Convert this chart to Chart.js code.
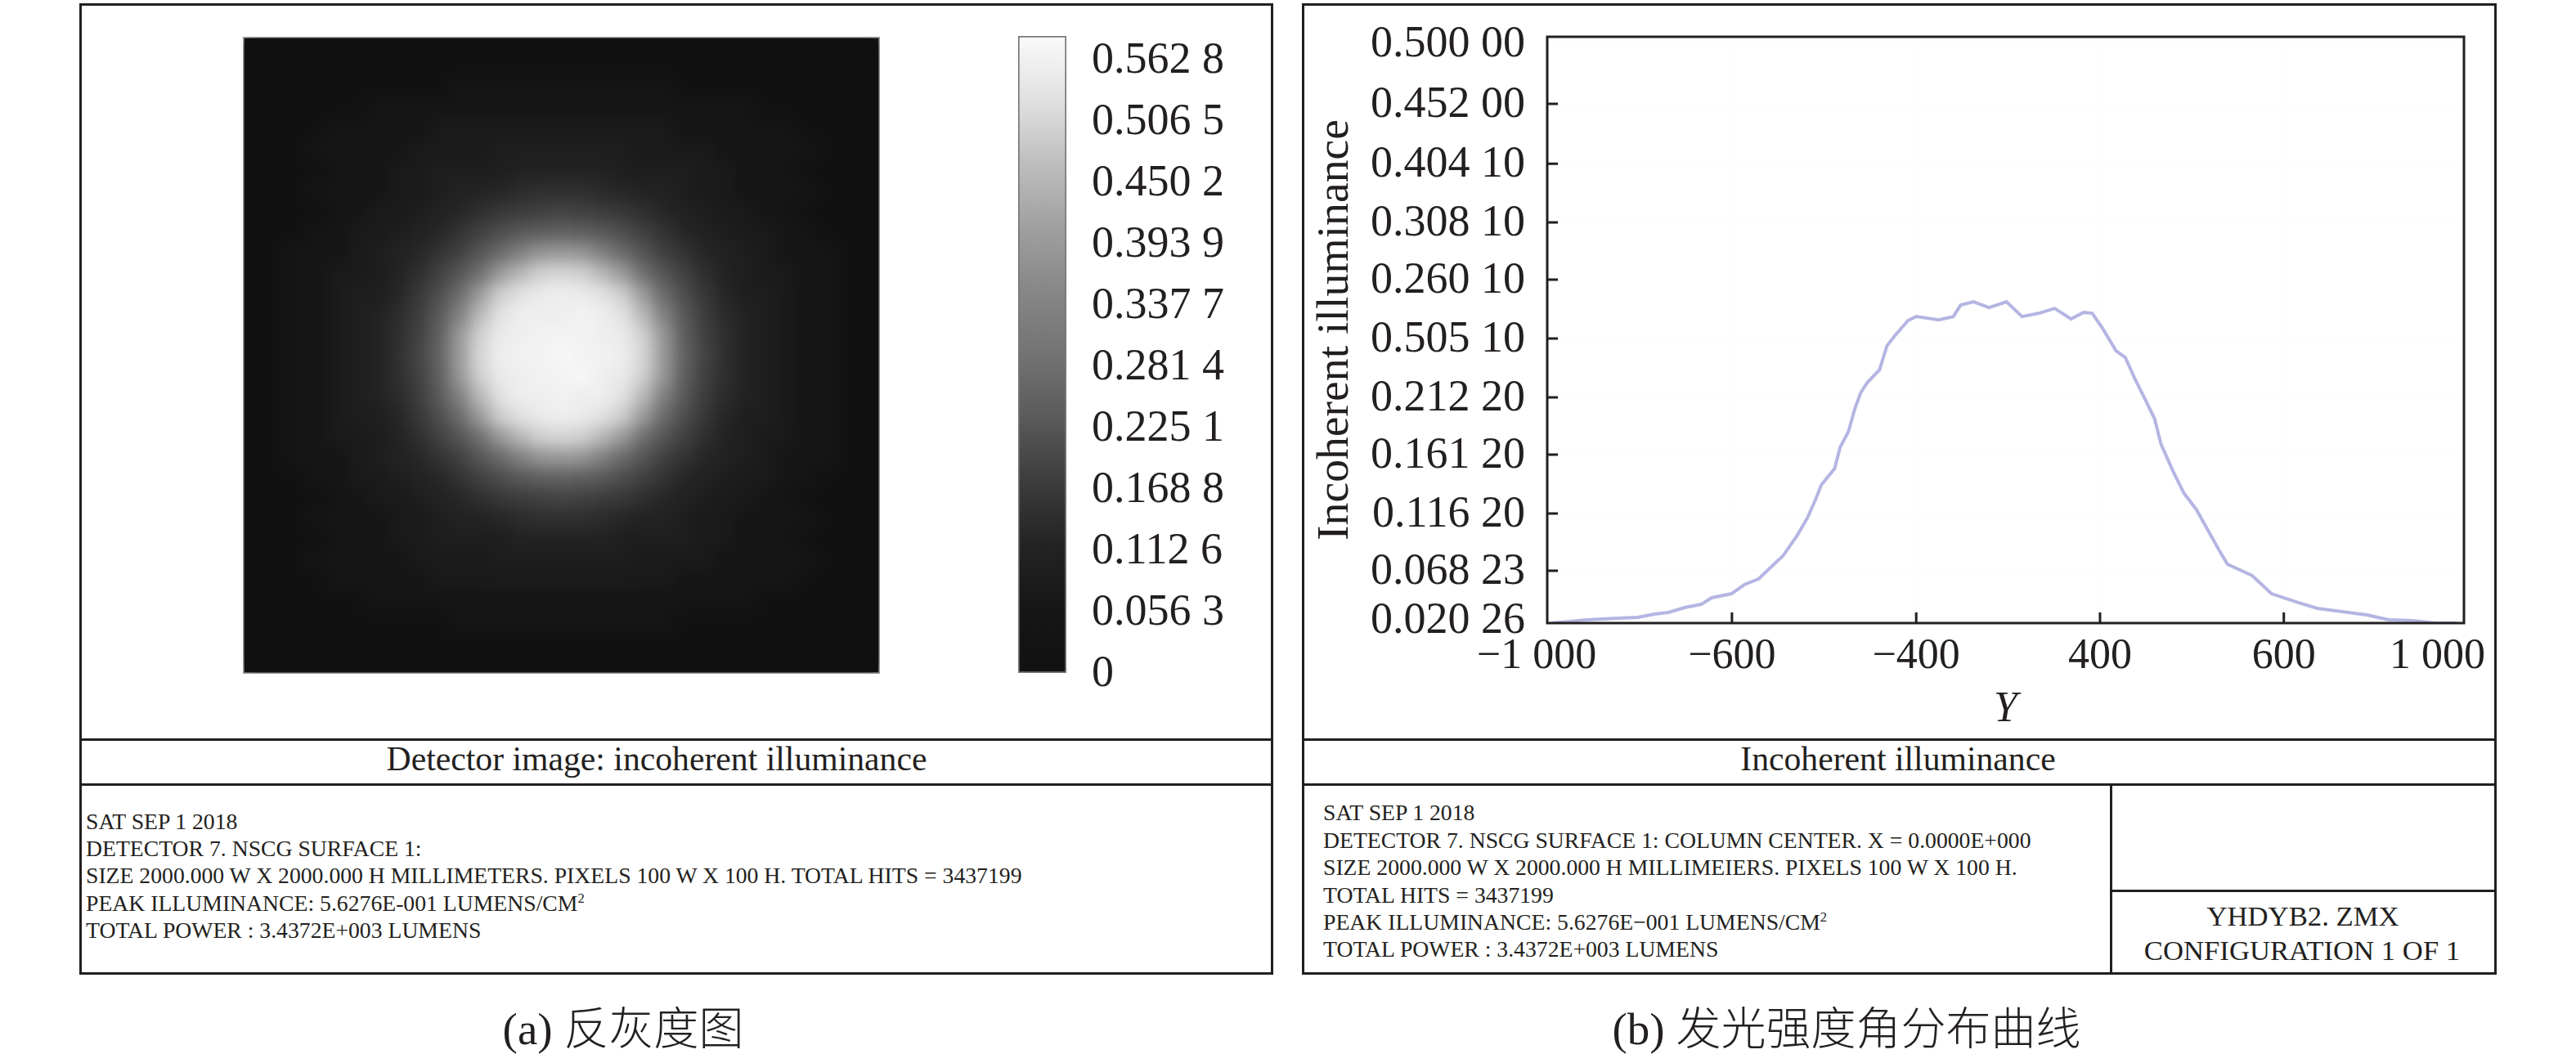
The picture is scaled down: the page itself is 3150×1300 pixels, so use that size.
<html lang="en">
  <head>
    <title>Detector image and incoherent illuminance</title>
    <meta charset="utf-8">
    <script src="https://cdn.jsdelivr.net/npm/chart.js@4/dist/chart.umd.min.js"></script>
    <style>
      html, body { margin: 0; padding: 0; background: #fff; }
      body { width: 3150px; height: 1300px; position: relative; overflow: hidden; color: #231f20; font-family: "Liberation Serif", serif; }
      .line { position: absolute; background: #231f20; }
      .txt { position: absolute; white-space: pre; line-height: 1; transform: translateY(-50%); }
      .mid { transform: translate(-50%, -50%); }
      .title { font-size: 41.7px; }
      .info { font-size: 27.7px; }
      .box { font-size: 34.7px; }
      .cap { font-size: 55px; font-family: "Liberation Serif", "Noto Sans CJK SC", serif; font-weight: 300; }
      sup { font-size: 60%; line-height: 0; }
      canvas { position: absolute; }
      #heatWrap { position: absolute; left: 298px; top: 46px; width: 777px; height: 777px; overflow: hidden; background: #111; outline: 2px solid #9a9a9a; outline-offset: -1px; }
      #heatChart { left: 0; top: 0; filter: blur(9px); }
    </style>
  </head>
  <body>
  <!-- left panel -->
  <div class="line" style="left:97px;top:4px;width:1460px;height:3px"></div>
  <div class="line" style="left:97px;top:4px;width:3px;height:1188px"></div>
  <div class="line" style="left:1554px;top:4px;width:3px;height:1188px"></div>
  <div class="line" style="left:97px;top:903px;width:1460px;height:3px"></div>
  <div class="line" style="left:97px;top:958px;width:1460px;height:3px"></div>
  <div class="line" style="left:97px;top:1189px;width:1460px;height:3px"></div>
  <!-- right panel -->
  <div class="line" style="left:1592px;top:4px;width:1461px;height:3px"></div>
  <div class="line" style="left:1592px;top:4px;width:3px;height:1188px"></div>
  <div class="line" style="left:3050px;top:4px;width:3px;height:1188px"></div>
  <div class="line" style="left:1592px;top:903px;width:1461px;height:3px"></div>
  <div class="line" style="left:1592px;top:958px;width:1461px;height:3px"></div>
  <div class="line" style="left:1592px;top:1189px;width:1461px;height:3px"></div>
  <div class="line" style="left:2580px;top:958px;width:3px;height:232px"></div>
  <div class="line" style="left:2580px;top:1088px;width:472px;height:3px"></div>

  <div id="heatWrap"><canvas id="heatChart" width="777" height="777"></canvas></div>
  <canvas id="barChart" width="310" height="860" style="left:1240px;top:10px"></canvas>
  <canvas id="curveChart" width="1450" height="890" style="left:1600px;top:10px"></canvas>

  <div class="txt title mid" style="left:803px;top:929px">Detector image: incoherent illuminance</div>
  <div class="txt title mid" style="left:2321px;top:929px">Incoherent illuminance</div>

  <div class="txt info" style="left:105px;top:1005px">SAT SEP 1 2018</div>
  <div class="txt info" style="left:105px;top:1038px">DETECTOR 7. NSCG SURFACE 1:</div>
  <div class="txt info" style="left:105px;top:1071px">SIZE 2000.000 W X 2000.000 H MILLIMETERS. PIXELS 100 W X 100 H. TOTAL HITS = 3437199</div>
  <div class="txt info" style="left:105px;top:1105px">PEAK ILLUMINANCE: 5.6276E-001 LUMENS/CM<sup>2</sup></div>
  <div class="txt info" style="left:105px;top:1138px">TOTAL POWER : 3.4372E+003 LUMENS</div>

  <div class="txt info" style="left:1618px;top:994px">SAT SEP 1 2018</div>
  <div class="txt info" style="left:1618px;top:1028px">DETECTOR 7. NSCG SURFACE 1: COLUMN CENTER. X = 0.0000E+000</div>
  <div class="txt info" style="left:1618px;top:1061px">SIZE 2000.000 W X 2000.000 H MILLIMEIERS. PIXELS 100 W X 100 H.</div>
  <div class="txt info" style="left:1618px;top:1095px">TOTAL HITS = 3437199</div>
  <div class="txt info" style="left:1618px;top:1128px">PEAK ILLUMINANCE: 5.6276E−001 LUMENS/CM<sup>2</sup></div>
  <div class="txt info" style="left:1618px;top:1161px">TOTAL POWER : 3.4372E+003 LUMENS</div>

  <div class="txt box mid" style="left:2816px;top:1121px">YHDYB2. ZMX</div>
  <div class="txt box mid" style="left:2815px;top:1163px">CONFIGURATION 1 OF 1</div>

  <div class="txt cap mid" style="left:762px;top:1258px">(a) 反灰度图</div>
  <div class="txt cap mid" style="left:2258px;top:1258px">(b) 发光强度角分布曲线</div>

  <script>
    // profile across the detector
    var curveY = [-991,-950,-914,-879,-843,-802,-766,-736,-700,-664,-641,-598,-570,-539,-509,-486,-455,-432,-414,-402,-373,-361,-343,-329,-316,-302,-275,-259,-241,-213,-195,-146,-114,-98,-70,-36,2,36,73,107,143,170,189,211,241,261,282,304,325,339,366,389,416,443,466,484,538,580,634,680,734,788,836,889,938,984];
    var curveIlluminance = [0.0203,0.0216,0.0229,0.0236,0.0243,0.0249,0.0276,0.0290,0.0330,0.0356,0.0410,0.0443,0.0517,0.0564,0.0671,0.0751,0.0918,0.1066,0.1219,0.1333,0.1467,0.1641,0.1768,0.1955,0.2089,0.2169,0.2276,0.2470,0.2557,0.2678,0.2711,0.2684,0.2711,0.2805,0.2832,0.2785,0.2832,0.2711,0.2738,0.2778,0.2691,0.2745,0.2738,0.2618,0.2430,0.2377,0.2203,0.2036,0.1875,0.1668,0.1440,0.1266,0.1133,0.0952,0.0798,0.0684,0.0591,0.0443,0.0376,0.0323,0.0296,0.0270,0.0229,0.0223,0.0203,0.0203];

    // tick labels are printed as in the figure, they do not all follow the scale
    var curveXTicks = [-1000,-597,-195,206,607,1000];
    var curveXLabels = ["−1 000","−600","−400","400","600","1 000"];
    var curveYTicks = [0.0229,0.0631,0.1099,0.1581,0.2049,0.2531,0.3012,0.3481,0.3962,0.4451,0.4946];
    var curveYLabels = ["0.020 26","0.068 23","0.116 20","0.161 20","0.212 20","0.505 10","0.260 10","0.308 10","0.404 10","0.452 00","0.500 00"];

    var barTicks = [0,0.0563,0.1126,0.1688,0.2251,0.2814,0.3377,0.3939,0.4502,0.5065,0.5628];
    var barLabels = ["0","0.056 3","0.112 6","0.168 8","0.225 1","0.281 4","0.337 7","0.393 9","0.450 2","0.506 5","0.562 8"];
    var barGrays = [17,22,35,60,90,115,135,160,190,225,250];

    // detector image read cell by cell, in 0.01 lumens/cm2, first row is the top
    var heatRows = [
      [0,0,0,0,0,0,0,0,0,0,0,0,0,0,0,0,0,0,0,0,0,0,0,0,0,0,0,0,0,0,0],
      [0,0,0,0,0,0,0,0,0,0,0,0,0,0,0,0,0,0,0,0,0,0,0,0,0,0,0,0,0,0,0],
      [0,0,0,0,0,0,0,0,0,0,1,1,1,1,1,1,1,1,1,1,1,0,0,0,0,0,0,0,0,0,0],
      [0,0,0,0,0,0,1,1,1,1,1,1,1,1,1,1,1,1,1,1,1,1,1,1,1,0,0,0,0,0,0],
      [0,0,0,0,1,1,1,1,1,2,2,2,2,2,2,2,2,2,2,2,2,1,1,1,1,1,1,0,0,0,0],
      [0,0,0,1,1,1,1,1,2,2,2,2,3,3,3,3,3,3,3,2,2,2,2,1,1,1,1,1,0,0,0],
      [0,0,0,0,1,1,1,2,2,3,3,3,3,4,4,4,4,4,3,3,3,3,2,2,1,1,1,0,0,0,0],
      [0,0,0,1,1,1,1,2,2,3,4,4,5,6,7,7,7,6,5,4,4,3,2,2,1,1,1,1,0,0,0],
      [0,0,0,0,1,1,2,2,3,4,5,7,9,10,11,12,11,10,9,7,5,4,3,2,2,1,1,0,0,0,0],
      [0,0,0,1,1,2,2,3,4,5,8,11,14,17,18,19,18,17,14,11,8,5,4,3,2,2,1,1,0,0,0],
      [0,0,1,1,1,2,3,4,5,8,11,16,21,26,31,32,31,26,21,16,11,8,5,4,3,2,1,1,1,0,0],
      [0,0,1,1,2,2,3,4,7,11,16,22,32,39,45,46,45,39,32,22,16,11,7,4,3,2,2,1,1,0,0],
      [0,0,1,1,2,3,3,5,9,14,21,32,44,49,51,52,51,49,44,32,21,14,9,5,3,3,2,1,1,0,0],
      [0,0,1,1,2,3,4,6,10,17,26,39,49,52,52,52,53,52,49,39,26,17,10,6,4,3,2,1,1,0,0],
      [0,0,1,1,2,3,4,7,11,18,31,45,51,52,53,53,53,52,51,45,31,18,11,7,4,3,2,1,1,0,0],
      [0,0,1,1,2,3,4,7,12,19,32,46,52,53,53,54,53,53,52,46,32,19,12,7,4,3,2,1,1,0,0],
      [0,0,1,1,2,3,4,7,11,18,31,45,51,52,53,53,54,52,51,45,31,18,11,7,4,3,2,1,1,0,0],
      [0,0,1,1,2,3,4,6,10,17,26,39,49,52,52,53,52,52,49,39,26,17,10,6,4,3,2,1,1,0,0],
      [0,0,1,1,2,3,3,5,9,14,21,32,44,49,51,52,51,49,44,32,21,14,9,5,3,3,2,1,1,0,0],
      [0,0,1,1,2,2,3,4,7,11,16,22,32,39,45,46,45,39,32,22,16,11,7,4,3,2,2,1,1,0,0],
      [0,0,1,1,1,2,3,4,5,8,11,16,21,26,31,32,31,26,21,16,11,8,5,4,3,2,1,1,1,0,0],
      [0,0,0,1,1,2,2,3,4,5,8,11,14,17,18,19,18,17,14,11,8,5,4,3,2,2,1,1,0,0,0],
      [0,0,0,0,1,1,2,2,3,4,5,7,9,10,11,12,11,10,9,7,5,4,3,2,2,1,1,0,0,0,0],
      [0,0,0,1,1,1,1,2,2,3,4,4,5,6,7,7,7,6,5,4,4,3,2,2,1,1,1,1,0,0,0],
      [0,0,0,0,1,1,1,2,2,3,3,3,3,4,4,4,4,4,3,3,3,3,2,2,1,1,1,0,0,0,0],
      [0,0,0,1,1,1,1,1,2,2,2,2,3,3,3,3,3,3,3,2,2,2,2,1,1,1,1,1,0,0,0],
      [0,0,0,0,1,1,1,1,1,2,2,2,2,2,2,2,2,2,2,2,2,1,1,1,1,1,1,0,0,0,0],
      [0,0,0,0,0,0,1,1,1,1,1,1,1,1,1,1,1,1,1,1,1,1,1,1,1,0,0,0,0,0,0],
      [0,0,0,0,0,0,0,0,0,0,1,1,1,1,1,1,1,1,1,1,1,0,0,0,0,0,0,0,0,0,0],
      [0,0,0,0,0,0,0,0,0,0,0,0,0,0,0,0,0,0,0,0,0,0,0,0,0,0,0,0,0,0,0],
      [0,0,0,0,0,0,0,0,0,0,0,0,0,0,0,0,0,0,0,0,0,0,0,0,0,0,0,0,0,0,0]
    ];

    var inkColor = "#231f20";
    var serif = "Liberation Serif";

    function heatGray(v) {
      var g = Math.round(17 + v * 238 / 56);
      return "rgb(" + g + "," + g + "," + g + ")";
    }

    // the detector image, one stacked bar segment per cell
    function drawHeat() {
      var columns = heatRows[0].map(function(v, i) { return i; });
      var dataSets = [];
      // bottom row goes first in the stack
      for(var row = heatRows.length - 1; row >= 0; row--) {
        dataSets.push({
          data: heatRows[row].map(function() { return 1; }),
          backgroundColor: heatRows[row].map(heatGray),
          borderWidth: 0,
          barPercentage: 1,
          categoryPercentage: 1
        });
      }
      new Chart(document.getElementById("heatChart"), {
        type: 'bar',
        data: { labels: columns, datasets: dataSets },
        options: {
          responsive: false,
          animation: false,
          plugins: { legend: { display: false }, tooltip: { enabled: false } },
          scales: {
            x: { display: false, stacked: true },
            y: { display: false, stacked: true, min: 0, max: heatRows.length }
          }
        }
      });
    }

    // colour bar next to the image
    function drawBar() {
      new Chart(document.getElementById("barChart"), {
        type: 'bar',
        data: {
          labels: ["illuminance"],
          datasets: [{
            data: [[-0.0008, 0.5838]],
            barPercentage: 1,
            categoryPercentage: 1,
            borderWidth: 2,
            borderSkipped: false,
            borderColor: "#777777",
            backgroundColor: function(context) {
              var area = context.chart.chartArea;
              if(!area) return "#888";
              var grad = context.chart.ctx.createLinearGradient(0, area.bottom, 0, area.top);
              for(var i = 0; i < barGrays.length; i++) {
                var g = barGrays[i];
                grad.addColorStop(i / (barGrays.length - 1), "rgb(" + g + "," + g + "," + g + ")");
              }
              return grad;
            }
          }]
        },
        options: {
          responsive: false,
          animation: false,
          layout: { padding: { left: 5, top: 34, bottom: 47 } },
          plugins: { legend: { display: false }, tooltip: { enabled: false } },
          scales: {
            x: { display: false },
            y: {
              position: 'right',
              min: -0.0008,
              max: 0.5838,
              afterFit: function(axis) {
                axis.width = 246;
                axis.paddingTop = 0;
                axis.paddingBottom = 0;
              },
              afterBuildTicks: function(axis) {
                axis.ticks = barTicks.map(function(v) { return { value: v }; });
              },
              border: { display: false },
              grid: { display: false },
              ticks: {
                padding: 23,
                labelOffset: 3,
                color: inkColor,
                font: { family: serif, size: 54 },
                autoSkip: false,
                callback: function(value, index) { return barLabels[index]; }
              }
            }
          }
        }
      });
    }

    // frame round the plot area and the inward tick marks, the end ticks are not drawn
    var framePlugin = {
      id: 'frame',
      afterDraw: function(chart) {
        var a = chart.chartArea;
        var ctx = chart.ctx;
        ctx.save();
        ctx.strokeStyle = inkColor;
        ctx.lineWidth = 3;
        ctx.strokeRect(a.left, a.top, a.right - a.left, a.bottom - a.top);
        ctx.beginPath();
        for(var i = 1; i < curveXTicks.length - 1; i++) {
          var px = chart.scales.x.getPixelForValue(curveXTicks[i]);
          ctx.moveTo(px, a.bottom);
          ctx.lineTo(px, a.bottom - 13);
        }
        for(var j = 1; j < curveYTicks.length - 1; j++) {
          var py = chart.scales.y.getPixelForValue(curveYTicks[j]);
          ctx.moveTo(a.left, py);
          ctx.lineTo(a.left + 13, py);
        }
        ctx.stroke();
        ctx.restore();
      }
    };

    function drawCurve() {
      var points = curveY.map(function(y, i) { return { x: y, y: curveIlluminance[i] }; });
      new Chart(document.getElementById("curveChart"), {
        type: 'line',
        data: {
          datasets: [{
            data: points,
            borderColor: "#b5b5e3",
            borderWidth: 4,
            pointRadius: 0,
            tension: 0,
            fill: false
          }]
        },
        plugins: [framePlugin],
        options: {
          responsive: false,
          animation: false,
          layout: { padding: { top: 35, right: 37 } },
          plugins: { legend: { display: false }, tooltip: { enabled: false } },
          scales: {
            x: {
              type: 'linear',
              min: -1000,
              max: 1000,
              afterFit: function(axis) {
                axis.height = 138;
                axis.paddingLeft = 0;
                axis.paddingRight = 0;
              },
              afterBuildTicks: function(axis) {
                axis.ticks = curveXTicks.map(function(v) { return { value: v }; });
              },
              border: { display: false },
              grid: { color: "#fafcfc", drawTicks: false },
              ticks: {
                padding: 10,
                color: inkColor,
                maxRotation: 0,
                autoSkip: false,
                font: { family: serif, size: 52 },
                // end labels sit further in than their ticks, trailing spaces push them left
                callback: function(value, index) {
                  if(index == 0) return curveXLabels[index] + "  ";
                  if(index == curveXLabels.length - 1) return curveXLabels[index] + "     ";
                  return curveXLabels[index];
                }
              },
              title: {
                display: true,
                text: "Y",
                color: inkColor,
                padding: 0,
                font: { family: serif, size: 52, style: 'italic' }
              }
            },
            y: {
              min: 0.02026,
              max: 0.5,
              afterFit: function(axis) {
                axis.width = 292;
                axis.paddingTop = 0;
                axis.paddingBottom = 0;
              },
              afterBuildTicks: function(axis) {
                axis.ticks = curveYTicks.map(function(v) { return { value: v }; });
              },
              border: { display: false },
              grid: { color: "#fafcfc", drawTicks: false },
              ticks: {
                padding: 27,
                labelOffset: 2,
                color: inkColor,
                autoSkip: false,
                font: { family: serif, size: 54 },
                callback: function(value, index) { return curveYLabels[index]; }
              },
              title: {
                display: true,
                text: "Incoherent illuminance",
                color: inkColor,
                padding: 0,
                font: { family: serif, size: 55.7 }
              }
            }
          }
        }
      });
    }

    drawHeat();
    drawBar();
    drawCurve();
  </script>
  </body>
</html>
